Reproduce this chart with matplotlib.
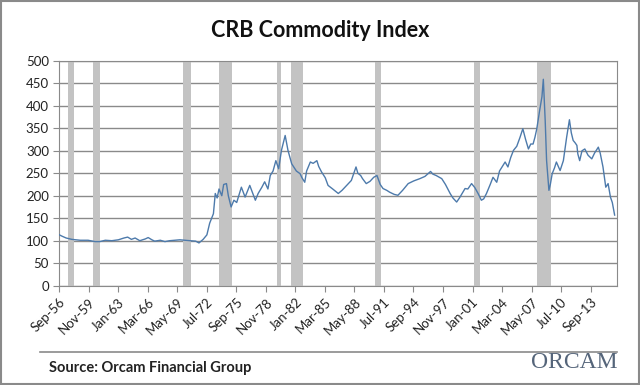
import matplotlib
matplotlib.use("Agg")
import matplotlib.pyplot as plt
from matplotlib.patches import Rectangle

# CRB index (decimal year, index value)
years = [1956.67, 1956.96, 1957.4, 1958.0, 1958.9, 1959.75, 1960.5, 1961.0, 1961.6, 1962.3,
         1963.0, 1963.6, 1964.0, 1964.4, 1964.8, 1965.3, 1965.9, 1966.2, 1966.6, 1966.9,
         1967.5, 1968.0, 1968.5, 1969.1, 1969.6, 1970.1, 1970.7, 1971.3, 1971.65, 1972.1,
         1972.5, 1972.8, 1973.2, 1973.4, 1973.6, 1973.8, 1974.1, 1974.3, 1974.6, 1974.8,
         1975.1, 1975.4, 1975.7, 1976.2, 1976.6, 1977.1, 1977.7, 1978.0, 1978.4, 1978.7,
         1979.05, 1979.3, 1979.6, 1979.9, 1980.2, 1980.5, 1980.9, 1981.2, 1981.6, 1982.1,
         1982.5, 1982.7, 1983.0, 1983.2, 1983.6, 1983.9, 1984.3, 1984.5, 1984.8, 1985.2,
         1985.5, 1986.0, 1986.6, 1987.0, 1987.5, 1988.0, 1988.5, 1988.7, 1989.0, 1989.2,
         1989.6, 1990.0, 1990.4, 1990.75, 1991.1, 1991.4, 1991.8, 1992.1, 1992.6, 1993.0,
         1993.5, 1994.1, 1994.7, 1995.35, 1995.9, 1996.5, 1996.75, 1997.1, 1997.7, 1998.1,
         1998.6, 1998.9, 1999.3, 1999.6, 2000.2, 2000.5, 2000.9, 2001.25, 2001.6, 2001.95,
         2002.2, 2002.5, 2002.9, 2003.2, 2003.6, 2003.9, 2004.5, 2004.8, 2005.1, 2005.4,
         2005.75, 2006.1, 2006.4, 2006.7, 2007.0, 2007.25, 2007.5, 2007.7, 2007.9, 2008.2,
         2008.45, 2008.6, 2008.8, 2008.95, 2009.2, 2009.35, 2009.55, 2009.8, 2010.0, 2010.4,
         2010.75, 2011.1, 2011.4, 2011.6, 2011.8, 2012.0, 2012.2, 2012.3, 2012.5, 2012.75,
         2013.05, 2013.4, 2013.8, 2014.1, 2014.5, 2014.7, 2015.0, 2015.3, 2015.55, 2015.8,
         2016.0, 2016.25]
crb = [113, 110, 106, 103, 101, 101, 98, 98, 101, 100,
       102, 106, 108, 103, 106, 100, 104, 107, 102, 99,
       101, 98, 100, 101, 102, 101, 100, 99, 95, 103,
       113, 139, 160, 205, 195, 215, 200, 225, 227, 200,
       175, 190, 185, 219, 197, 223, 190, 205, 219, 231,
       215, 245, 255, 278, 260, 301, 334, 301, 271, 255,
       249, 240, 230, 255, 275, 272, 278, 265, 253, 240,
       223, 215, 205, 212, 223, 234, 264, 250, 245, 238,
       227, 232, 241, 245, 225, 216, 212, 208, 203, 201,
       212, 227, 233, 238, 243, 254, 248, 245, 238, 225,
       205, 195, 186, 195, 216, 215, 227, 218, 205, 190,
       193, 205, 225, 241, 230, 255, 275, 264, 285, 301,
       310, 330, 349, 325, 304, 315, 315, 330, 349, 389,
       420, 459, 367, 278, 212, 225, 249, 262, 275, 256,
       278, 330, 369, 340, 323, 318, 312, 293, 278, 300,
       304, 290, 282, 295, 308, 295, 264, 219, 227, 197,
       185, 157]

# NBER recessions (start, end) as decimal years
recessions = [(1957.58, 1958.25), (1960.25, 1961.08), (1969.92, 1970.83), (1973.83, 1975.17),
              (1980.0, 1980.5), (1981.5, 1982.83), (1990.5, 1991.17), (2001.17, 2001.83),
              (2007.92, 2009.42)]

tick_labels = ["Sep-56", "Nov-59", "Jan-63", "Mar-66", "May-69", "Jul-72", "Sep-75",
               "Nov-78", "Jan-82", "Mar-85", "May-88", "Jul-91", "Sep-94", "Nov-97",
               "Jan-01", "Mar-04", "May-07", "Jul-10", "Sep-13"]

START = 1956.667
def to_month(y):
    return (y - START) * 12

plt.rcParams['font.family'] = ['Lato', 'DejaVu Sans']

fig = plt.figure(figsize=(6.4, 3.85), dpi=100)
ax = fig.add_axes([0.0927, 0.258, 0.8713, 0.584])

for s, e in recessions:
    ax.axvspan(to_month(s), to_month(e), color="#c3c3c3", lw=0, zorder=1)

ax.plot([to_month(y) for y in years], crb, color="#4d7aab", lw=1.0, zorder=3)

ax.set_ylim(0, 500)
ax.set_yticks(range(0, 501, 50))
ax.set_xlim(0, 718)
ax.set_xticks([i * 38 for i in range(len(tick_labels))])
ax.set_xticklabels(tick_labels, rotation=45, ha="right", rotation_mode="anchor")
ax.yaxis.grid(True, color="#8a8a8a", lw=1.0, zorder=0)
ax.set_axisbelow(True)
for sp in ax.spines.values():
    sp.set_color("#8a8a8a")
ax.tick_params(axis="both", colors="#8a8a8a", labelcolor="#222222", labelsize=9.5, length=4)

fig.text(0.5, 0.92, "CRB Commodity Index", ha="center", va="center",
         fontsize=15.5, fontweight="bold", color="#111111")

fig.add_artist(plt.Line2D([40 / 640, 617 / 640], [1 - 352 / 385] * 2,
                          color="#8a8a8a", lw=1.2))
fig.text(49 / 640, 1 - 368 / 385, "Source: Orcam Financial Group", ha="left", va="center",
         fontsize=10.5, fontweight="bold", color="#222222")
fig.text(617 / 640, 1 - 362 / 385, "ORCAM", ha="right", va="center",
         fontsize=17, family="Liberation Serif", color="#55657a")

fig.add_artist(Rectangle((0.002, 0.003), 0.996, 0.994, transform=fig.transFigure,
                         fill=False, ec="#8a8a8a", lw=1.5))

fig.savefig("out.png", dpi=100)
